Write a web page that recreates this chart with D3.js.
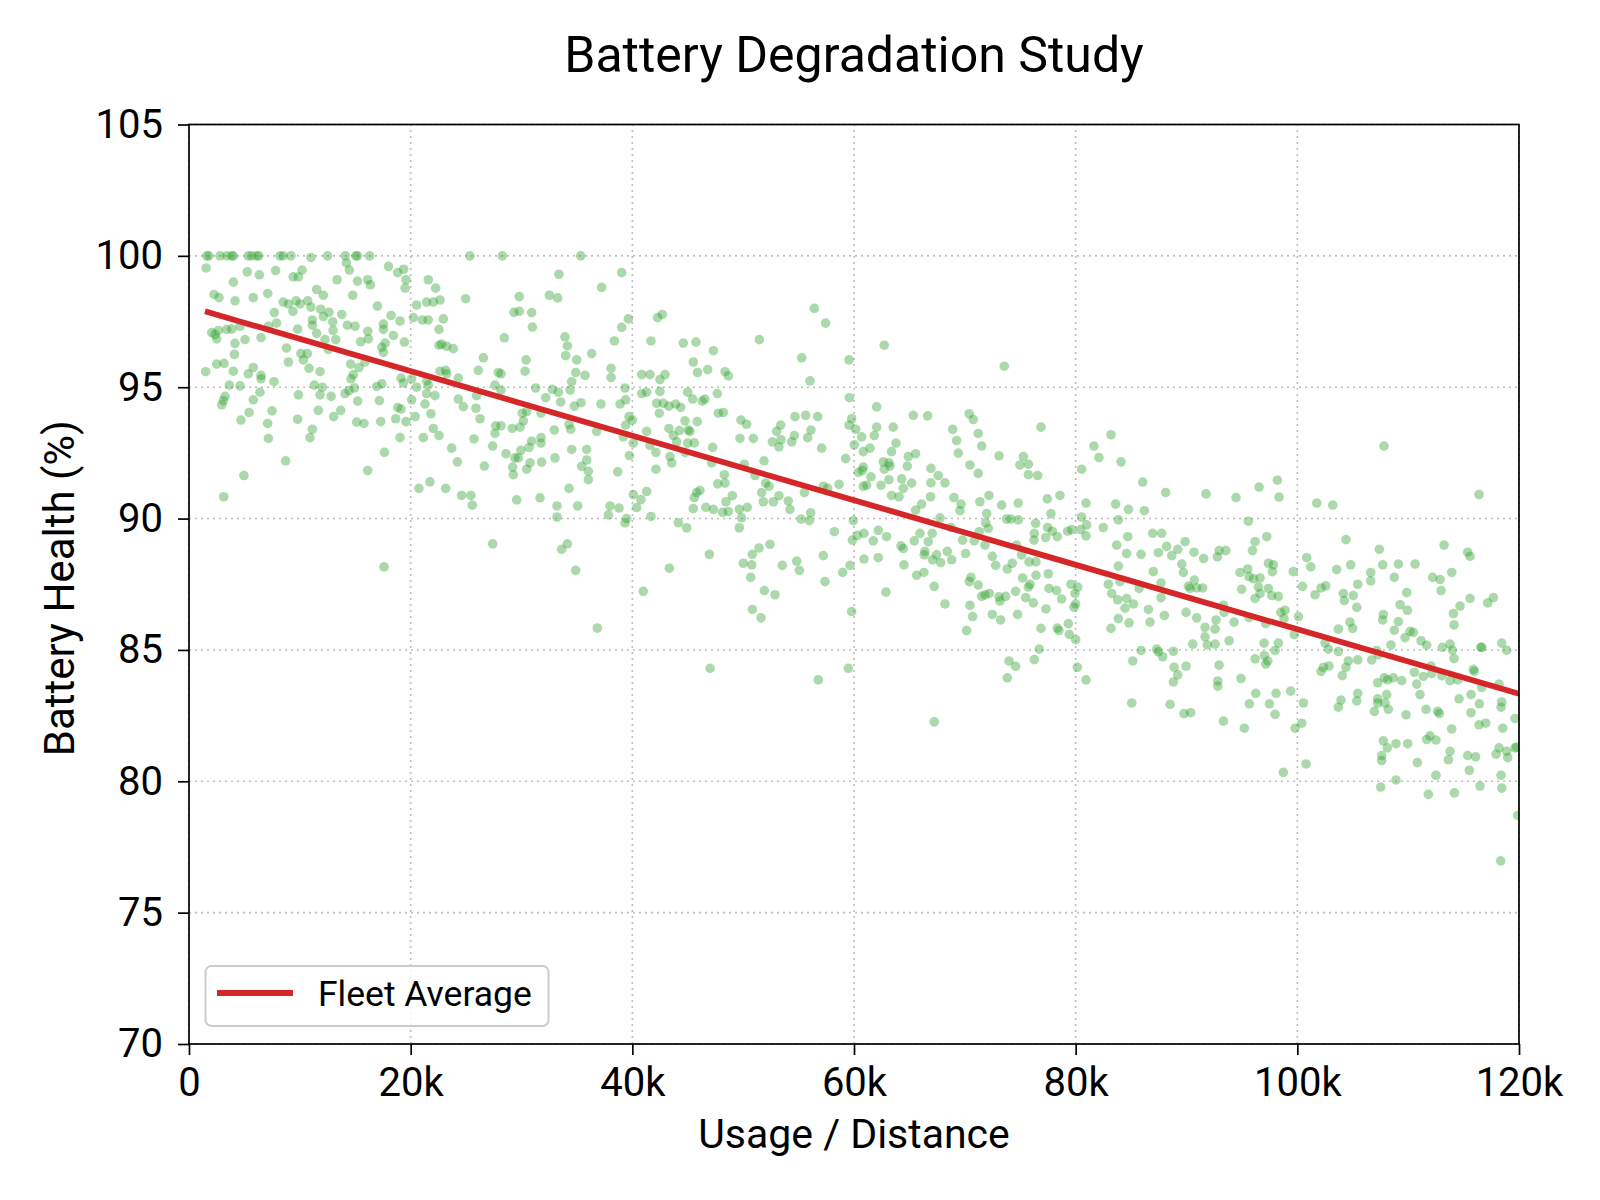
<!DOCTYPE html>
<html>
<head>
<meta charset="utf-8">
<script src="https://d3js.org/d3.v7.min.js"></script>
<style>
  body { margin: 0; background: #fff; }
</style>
</head>
<body>
<script>
// usage in thousands of km, battery health in %
const readings = [
  // 0 - 20k
  [1.6,100],[1.8,100],[2.8,100],[3.4,100],[3.85,100],[4.0,100],[5.35,100],[5.65,100],[6.1,100],[6.3,100],[8.2,100],[8.5,100],[9.2,100],[11.0,99.94],[12.5,100],[14.1,100],[14.2,99.73],[15.05,100],[15.2,100],[16.3,100],
  [1.54,99.54],[5.26,99.39],[6.35,99.28],[7.82,99.44],[4.0,99.0],[9.4,99.2],[9.87,99.2],[10.2,99.46],[13.36,99.09],[14.47,99.46],[15.2,99.04],[16.12,99.09],[16.36,98.9],[18.0,99.6],[18.83,99.36],[19.37,99.49],[19.58,99.09],[19.5,98.77],
  [2.26,98.53],[2.71,98.41],[4.15,98.29],[5.8,98.41],[7.1,98.57],[11.52,98.72],[12.12,98.5],[14.77,98.5],[17.0,98.09],
  [8.5,98.24],[8.97,98.17],[9.66,98.29],[10.02,98.17],[10.71,98.29],[11.0,98.05],[11.88,97.97],[12.63,97.85],[12.12,97.69],[9.38,97.89],[7.7,97.84],[13.78,97.77],[11.13,97.56],[12.97,97.49],[11.13,97.36],[14.29,97.36],[14.98,97.32],[17.54,97.4],[18.23,97.73],[19.04,97.52],[20.24,97.65],
  [2.05,97.08],[2.35,97.0],[2.5,96.84],[2.65,97.16],[3.4,97.2],[3.85,97.21],[4.6,97.32],[5.05,96.81],[6.5,96.89],[7.9,97.44],[7.16,97.32],[9.8,97.21],[11.52,97.05],[12.27,96.81],[13.0,97.16],[13.24,96.81],[12.57,96.44],[16.12,97.13],[16.18,96.84],[15.49,96.73],[17.54,97.2],[17.7,96.68],[17.4,96.52],[17.54,96.33],[18.44,96.97],[19.43,96.72],
  [4.15,96.67],[4.1,96.25],[8.8,96.49],[10.1,96.28],[10.68,96.28],[10.32,96.04],[8.97,95.96],[10.83,95.72],[11.82,95.59],[14.59,95.88],[15.34,95.75],[15.88,95.96],[14.62,95.32],[14.83,95.48],
  [1.5,95.59],[2.5,95.88],[3.16,95.91],[4.0,95.61],[5.35,95.51],[5.8,95.75],[6.5,95.45],[6.5,95.32],[7.67,95.21],[3.64,95.08],[4.6,95.05],[11.31,95.08],[12.03,95.0],[11.82,94.71],[12.82,94.65],[14.08,94.76],[14.44,94.87],[14.92,94.97],[16.94,95.03],[17.4,95.13],[19.13,95.35],[19.34,95.16],[20.09,95.32],
  [3.25,94.65],[3.1,94.49],[2.95,94.33],[5.8,94.52],[6.4,94.81],[9.87,94.71],[15.22,94.47],[17.18,94.49],[20.09,94.52],
  [4.69,93.75],[5.42,94.04],[7.1,93.62],[7.49,94.1],[9.8,93.78],[11.67,94.12],[13.06,93.88],[13.69,94.12],[15.13,93.67],[15.79,93.62],[17.3,93.69],[18.65,93.8],[18.83,94.23],[19.13,94.17],[19.58,93.69],[20.4,93.88],
  [7.16,93.05],[10.92,93.08],[11.13,93.4],[19.04,93.08],[8.72,92.2],[17.63,92.52],[16.12,91.83],[4.96,91.64],[3.13,90.83],[17.6,88.16],
  // 20k - 40k
  [25.35,100],[28.27,100],[35.34,100],
  [21.59,99.09],[22.26,98.77],[33.38,99.3],[39.04,99.36],[37.23,98.8],
  [20.54,98.13],[21.44,98.24],[22.04,98.24],[22.65,98.32],[24.96,98.37],[29.8,98.45],[32.51,98.5],[33.26,98.4],
  [21.05,97.56],[21.59,97.56],[22.95,97.6],[22.56,97.2],[29.32,97.85],[29.8,97.89],[30.92,97.84],[30.98,97.29],[28.45,96.88],[33.92,96.92],[34.14,96.57],[33.98,96.2],[34.98,96.04],[36.33,96.28],[38.38,96.76],[39.04,97.28],[39.64,97.6],
  [22.56,96.6],[22.8,96.64],[23.25,96.56],[23.85,96.47],[26.56,96.12],[30.41,96.04],
  [22.65,95.61],[23.16,95.64],[23.25,95.51],[24.3,95.35],[26.1,95.64],[27.91,95.56],[28.15,95.51],[30.32,95.61],[34.89,95.56],[35.73,95.45],[38.08,95.72],[38.08,95.37],[40.84,95.48],
  [20.54,95.0],[21.44,95.24],[21.59,95.08],[21.44,94.76],[22.19,94.68],[21.29,94.36],[21.83,93.99],[24.3,94.55],[24.75,94.26],[25.89,94.2],[25.95,94.68],[26.26,93.8],[27.61,95.08],[28.15,94.89],[31.28,94.97],[32.18,94.6],[32.78,94.92],[33.32,94.81],[33.53,94.44],[34.38,94.89],[34.53,95.21],[34.77,94.28],[35.37,94.41],[37.17,94.36],[38.89,94.36],[39.4,94.52],[39.34,94.97],[39.7,93.88],[40.0,93.75],[40.84,94.76],
  [30.07,94.01],[30.47,94.07],[31.76,94.01],[29.17,93.43],[29.86,93.48],[30.17,93.72],[27.67,93.53],[28.15,93.53],[27.61,93.24],[32.96,93.37],[34.29,93.59],[34.44,93.4],[36.78,93.32],[39.4,93.56],[39.19,93.11],[40.09,92.87],
  [21.14,93.08],[22.56,93.16],[22.04,93.43],[23.7,92.68],[25.71,93.03],[27.4,92.76],[24.21,92.16],[26.65,92.0],[28.6,92.47],[29.41,92.31],[29.71,92.31],[29.95,92.6],[30.68,92.71],[30.92,92.95],[31.76,93.08],[31.76,92.87],[29.2,91.96],[29.26,91.67],[30.47,91.88],[30.77,92.12],[31.82,92.15],[33.02,92.31],[34.53,92.63],[35.88,92.63],[35.88,92.23],[35.43,91.99],[36.03,91.8],[36.03,91.48],[38.68,91.78],[39.73,92.4],[40.09,90.91],[40.39,90.42],[40.78,90.72],
  [20.75,91.15],[21.74,91.4],[23.16,91.15],[24.6,90.88],[25.44,90.88],[25.56,90.51],[29.56,90.71],[31.67,90.79],[34.29,91.15],[33.2,90.48],[33.2,90.06],[35.07,90.48],[37.99,90.48],[37.84,90.14],[38.8,90.4],[39.34,89.84],[39.49,90.0],
  [27.4,89.04],[33.62,88.83],[34.14,89.04],[34.89,88.03],[40.99,87.23],[36.84,85.83],
  // 40k - 60k
  [42.28,97.65],[42.7,97.77],[41.68,96.76],[44.6,96.68],[45.74,96.72],[47.31,96.39],[45.5,95.96],[45.89,95.56],[46.8,95.67],[48.36,95.59],[48.66,95.43],[51.46,96.81],[55.28,96.12],[56.03,95.24],[56.42,98.0],[57.44,97.44],[59.55,96.04],
  [41.59,95.48],[42.49,95.29],[42.95,95.48],[41.29,94.81],[42.49,94.84],[42.19,94.39],[42.79,94.39],[43.3,94.28],[43.91,94.36],[44.36,94.23],[42.43,94.01],[44.99,94.81],[45.44,94.55],[46.31,94.47],[46.55,94.55],[47.67,94.76],[47.76,94.01],[48.21,94.04],[44.75,93.72],[45.86,93.69],[43.3,93.43],[43.7,93.16],[44.24,93.35],[45.05,93.37],[45.2,93.32],[44.0,92.92],[44.99,92.87],[45.59,92.88],[41.29,93.32],[41.59,92.79],[42.13,92.52],[43.4,92.36],[43.55,92.12],[42.13,91.88],[44.75,92.52],[47.25,92.71],[47.16,92.12],
  [49.8,93.75],[50.31,93.59],[49.71,93.05],[50.92,93.05],[52.63,92.92],[53.02,93.32],[53.38,93.56],[53.41,93.0],[53.23,92.73],[54.38,92.92],[54.62,93.16],[54.68,93.88],[55.64,93.93],[56.72,93.88],[56.12,93.37],[55.82,93.08],[57.08,92.68],[50.1,92.07],[51.88,92.2],[51.07,91.64],[52.03,91.35],[52.33,91.23],[51.67,90.99],[51.82,90.64],[52.72,90.64],[53.23,90.87],[54.07,90.67],[54.22,90.35],[55.52,90.99],[57.23,91.23],[57.62,91.15],[58.65,91.3],[59.25,92.28],[55.22,89.98],[55.97,89.92],[56.09,90.22],
  [41.29,91.03],[41.68,90.08],[44.15,89.84],[44.9,89.65],[45.59,90.8],[45.8,90.99],[46.1,91.07],[45.5,90.38],[46.64,90.43],[47.31,90.35],[47.7,91.32],[48.3,91.67],[48.36,91.35],[49.02,90.87],[48.45,90.64],[48.15,90.24],[48.66,90.27],[49.65,90.35],[50.37,90.43],[49.86,90.03],[49.65,89.65],
  [59.58,94.6],[59.79,93.8],[59.55,93.56],[60.15,93.4],[60.69,93.11],[61.83,93.16],[60.03,92.81],[60.84,92.55],[61.44,92.68],[60.84,91.96],[60.39,91.76],[60.75,91.83],[61.53,91.59],[61.14,91.27],[60.84,91.23],[59.94,89.92],[59.85,89.18],[60.3,89.36],[60.9,89.44],[61.74,89.15],[60.9,88.46],
  [58.23,89.5],[57.23,88.59],[57.38,87.6],[58.98,87.95],[59.64,88.22],[59.79,86.46],[46.95,88.64],[43.34,88.11],[50.01,88.3],[50.77,88.24],[50.83,88.64],[51.43,88.88],[52.42,89.02],[50.68,87.76],[53.53,88.22],[54.83,88.38],[55.07,88.03],[51.91,87.26],[52.87,87.1],[50.83,86.54],[51.61,86.22],[47.01,84.3],[56.78,83.86],[59.49,84.3],
  // 60k - 80k
  [62.73,96.6],[73.56,95.8],
  [62.04,94.25],[62.04,93.48],[63.54,93.48],[63.79,92.87],[63.39,92.55],[62.64,92.16],[63.15,92.12],[63.24,92.0],[62.73,91.88],[64.9,92.36],[64.81,92.0],[65.56,92.47],[65.35,93.93],[66.64,93.91],[68.9,93.4],[69.26,92.97],[69.41,92.49],[70.4,93.99],[70.76,93.77],[71.21,93.24],[71.52,92.76],[70.46,92.04],[71.21,91.72],[73.08,92.39],[75.28,92.36],[74.97,92.04],[75.73,92.07],[75.73,91.67],[76.57,91.64],[76.87,93.48],[78.58,90.88],[77.44,90.75],[77.77,90.19],[80.54,91.88],[81.65,92.76],[82.1,92.32],[80.93,90.59],[80.54,90.06],[80.99,89.76],[82.49,89.66],
  [62.43,91.27],[63.15,91.48],[64.3,91.51],[64.45,91.15],[65.2,91.35],[63.39,90.88],[64.06,90.83],[66.94,91.91],[66.94,91.36],[67.6,91.64],[68.21,91.36],[66.91,90.83],[66.1,90.55],[65.56,90.32],[69.02,90.8],[69.65,90.55],[69.56,90.3],[71.36,90.64],[72.18,90.88],[73.32,90.51],[74.82,90.59],[71.97,90.19],[71.88,89.84],[72.12,89.63],[73.77,89.98],[74.16,89.98],[74.82,89.95],[76.39,89.82],[76.27,89.44],[76.24,89.18],[77.47,89.66],[77.89,89.52],[77.29,89.28],[78.34,89.31],[79.28,89.52],[79.64,89.58],[80.45,89.58],[80.93,89.34],
  [62.19,89.55],[62.94,89.31],[62.19,88.51],[64.24,88.96],[64.45,88.86],[64.51,88.24],[65.44,89.15],[65.95,89.44],[66.7,89.12],[67.06,89.44],[66.4,88.75],[66.34,88.62],[67.45,88.62],[67.09,88.43],[67.82,88.32],[68.42,88.75],[68.81,88.43],[67.76,90.03],[68.75,89.66],[69.8,89.18],[70.07,88.67],[70.85,89.15],[71.82,88.99],[71.3,89.5],[72.48,88.56],[72.78,88.22],[73.83,88.08],[74.28,88.3],[74.67,88.99],[75.12,88.62],[75.79,88.35],[76.42,88.35],[75.21,87.74],[75.88,87.5],[76.42,87.84],[77.53,87.9],[75.73,87.39],[75.49,86.99],[76.18,86.79],[77.59,87.34],[78.28,87.26],[78.73,86.94],[79.58,87.5],[80.18,87.39],[79.94,87.15],[79.85,86.63],[80.0,86.75],
  [65.65,87.84],[66.31,87.95],[62.88,87.2],[67.24,87.42],[68.21,86.75],[70.4,87.6],[70.55,87.76],[71.21,87.47],[71.52,87.04],[71.82,87.1],[72.21,87.15],[73.08,87.02],[73.17,86.86],[73.68,87.04],[74.58,87.23],[70.46,86.7],[70.7,86.27],[70.16,85.74],[72.48,86.35],[73.23,86.14],[74.76,86.35],[77.32,86.56],[76.87,85.82],[78.34,85.83],[78.49,85.74],[79.34,86.0],[79.43,85.59],[80.0,85.39],
  [76.72,85.03],[76.27,84.63],[73.98,84.58],[74.58,84.38],[73.83,83.94],[80.15,84.34],[80.93,83.86],[67.24,82.26],
  // 80k - 100k
  [83.19,93.19],[84.09,92.16],[86.05,91.39],[88.12,90.99],[91.76,90.94],[94.47,90.8],[96.55,91.2],[98.2,91.46],[98.35,90.82],[101.75,90.59],[103.19,90.51],
  [83.61,90.55],[84.76,90.35],[83.85,89.95],[86.2,90.3],[83.7,88.99],[84.7,89.31],[84.6,88.67],[83.85,88.19],[85.9,88.64],[86.95,89.44],[87.76,89.44],[88.21,88.94],[87.46,88.7],[88.67,88.59],[89.21,88.83],[89.87,89.12],[90.68,88.72],[89.57,88.27],[89.72,87.95],[91.55,88.48],[92.79,88.54],[92.94,88.78],[93.54,88.78],[95.58,89.9],[96.19,89.12],[95.95,88.78],[97.24,89.31],[97.39,88.3],[97.84,88.24],[97.75,87.98],[99.64,87.98],[100.85,88.51],[101.21,88.16],
  [87.01,87.98],[82.95,87.5],[84.0,87.6],[85.72,87.34],[87.7,87.55],[87.7,86.99],[83.25,87.15],[83.79,86.91],[84.6,86.96],[85.21,86.75],[84.45,86.59],[83.85,86.19],[84.82,86.03],[83.19,85.82],[86.56,86.54],[86.71,86.06],[88.0,86.31],[89.96,86.43],[90.17,87.43],[90.71,87.66],[90.92,87.36],[91.46,87.36],[90.32,87.34],[90.92,86.22],[91.67,85.86],[91.67,85.5],[91.88,85.19],[92.58,85.79],[92.67,86.14],[93.33,86.7],[93.39,86.43],[94.29,86.06],[93.84,85.35],[92.58,85.22],[90.56,85.22],[94.83,87.95],[95.52,88.08],[95.64,87.79],[96.04,87.71],[96.64,87.74],[94.98,87.31],[96.49,87.39],[96.64,87.15],[96.19,86.96],[97.39,87.34],[97.69,87.07],[98.29,87.04],[95.64,86.23],[97.15,86.0],[98.5,86.43],[98.89,86.51],[98.8,86.19],[100.1,86.27],[99.73,85.58],[98.29,85.26],[97.0,85.26],[100.46,87.42],[101.6,87.1],[102.14,87.36],[102.56,87.44],[102.5,85.26],[102.8,85.03],
  [85.15,84.58],[85.9,84.98],[87.31,85.03],[87.46,84.93],[87.85,84.74],[88.82,84.95],[88.88,84.34],[89.21,84.05],[88.82,83.78],[89.96,84.38],[92.94,84.42],[92.82,83.82],[92.82,83.62],[94.92,83.91],[96.19,84.66],[97.03,84.78],[97.33,84.58],[97.15,84.46],[97.99,84.98],[102.14,84.18],[102.35,84.34],[102.86,84.39],
  [85.06,82.98],[88.52,82.93],[89.78,82.58],[90.38,82.61],[93.33,82.29],[95.22,82.02],[95.67,82.95],[96.25,83.35],[97.48,82.95],[97.99,82.55],[98.08,83.35],[99.4,83.43],[100.55,82.98],[100.4,82.21],[99.8,82.02],[100.79,80.66],[98.74,80.34],
  // 100k - 120k
  [107.82,92.76],[116.39,90.91],
  [104.39,89.2],[107.4,88.83],[107.7,88.24],[109.12,88.27],[110.62,88.27],[113.24,88.99],[115.37,88.72],[115.58,88.56],[103.55,88.06],[104.81,88.24],[106.62,87.95],[106.62,87.63],[105.45,87.5],[108.75,87.76],[109.87,87.18],[112.21,87.76],[112.88,87.68],[112.97,87.26],[113.93,87.95],[115.58,86.96],[117.18,86.79],[117.69,86.99],[114.68,86.67],[114.08,86.38],[114.14,85.95],[104.15,87.15],[104.24,86.88],[105.05,87.07],[105.36,86.62],[109.27,86.72],[109.93,86.51],[109.12,86.08],[108.75,85.75],[107.76,86.35],[107.7,86.14],[104.75,86.06],[104.99,85.82],[103.7,85.79],[110.17,85.71],[110.47,85.67],[109.72,85.47],[108.45,85.19],[111.16,85.35],[111.67,85.18],[113.09,85.1],[113.78,85.22],[113.99,84.99],[114.14,84.67],[116.55,85.1],[116.64,85.1],[118.44,85.26],[118.89,84.99],
  [103.7,84.94],[104.6,84.58],[104.39,84.34],[104.06,84.02],[105.45,84.62],[106.71,84.62],[107.16,84.98],[107.31,84.82],[107.85,83.94],[107.25,83.75],[108.15,83.86],[108.66,83.94],[109.42,83.83],[110.77,83.7],[110.56,84.15],[111.37,83.99],[112.06,84.39],[112.12,84.1],[113.03,84.02],[113.78,83.83],[114.47,83.86],[115.88,84.26],[115.97,84.18],[116.64,83.57],[111.07,83.3],[103.7,82.82],[103.94,83.09],[105.36,83.06],[105.45,83.35],[106.95,82.66],[107.25,83.14],[107.25,82.98],[108.06,83.3],[107.91,82.98],[108.21,82.74],[109.81,82.53],[111.61,82.74],[112.66,82.66],[112.81,82.58],[114.59,83.14],[115.67,83.3],[116.42,82.95],[115.67,82.61],[116.39,82.15],[117.0,82.21],[118.2,83.7],[118.44,83.02],[118.38,82.82],[118.53,82.02],[119.64,82.39],[119.79,81.3],
  [107.76,81.54],[107.61,80.98],[107.61,80.79],[108.12,81.27],[108.9,81.43],[109.96,81.43],[110.83,80.71],[111.67,81.59],[111.97,81.73],[112.51,81.57],[113.93,81.99],[113.78,81.14],[113.63,80.82],[115.37,80.98],[116.09,80.93],[115.52,80.42],[117.93,81.03],[118.2,81.27],[118.89,81.14],[118.98,80.9],[119.64,81.27],[107.52,79.78],[108.9,80.05],[111.82,79.5],[112.51,80.23],[114.17,79.56],[116.48,79.82],[118.38,80.23],[118.44,79.74],[119.88,78.7],[118.35,76.97]
]

// fleet average trend line (start / end)
const fleetAvgUsage = [1.44, 120]
const fleetAvgHealth = [97.89, 83.33]

const xTicks = [0, 20, 40, 60, 80, 100, 120]
const yTicks = [70, 75, 80, 85, 90, 95, 100, 105]

const width = 1600
const height = 1200
const margin = { left: 189, right: 81, top: 124.5, bottom: 156 }
const fontFamily = "Roboto, 'Open Sans', sans-serif"

const svg = d3.select("body").append("svg")
    .attr("width", width).attr("height", height)
    .style("font-family", fontFamily)

const x = d3.scaleLinear().domain([0, 120]).range([margin.left, width - margin.right])
const y = d3.scaleLinear().domain([70, 105]).range([height - margin.bottom, margin.top])

// grid
const grid = svg.append("g")
    .attr("stroke", "#bdbdbd")
    .attr("stroke-width", 1.6)
    .attr("stroke-dasharray", "2,4")
grid.selectAll(".vgrid").data(xTicks).join("line")
    .attr("x1", d => x(d)).attr("x2", d => x(d))
    .attr("y1", y(70)).attr("y2", y(105))
grid.selectAll(".hgrid").data(yTicks).join("line")
    .attr("x1", x(0)).attr("x2", x(120))
    .attr("y1", d => y(d)).attr("y2", d => y(d))

// clip for the plot area
svg.append("clipPath").attr("id", "plotClip").append("rect")
    .attr("x", x(0)).attr("y", y(105))
    .attr("width", x(120) - x(0)).attr("height", y(70) - y(105))

const plot = svg.append("g").attr("clip-path", "url(#plotClip)")

plot.selectAll(".dot").data(readings).join("circle")
    .attr("class", "dot")
    .attr("cx", d => x(d[0]))
    .attr("cy", d => y(d[1]))
    .attr("r", 4.8)
    .attr("fill", "#2ca02c")
    .attr("fill-opacity", 0.4)

plot.append("path")
    .datum(fleetAvgUsage.map((u, i) => [u, fleetAvgHealth[i]]))
    .attr("d", d3.line().x(d => x(d[0])).y(d => y(d[1])))
    .attr("fill", "none")
    .attr("stroke", "#d62728")
    .attr("stroke-width", 5.8)

// axes
const xAxis = svg.append("g")
    .attr("transform", `translate(0,${y(70)})`)
    .call(d3.axisBottom(x).tickValues(xTicks).tickSize(11).tickPadding(13)
        .tickFormat(d => d === 0 ? "0" : d + "k"))
const yAxis = svg.append("g")
    .attr("transform", `translate(${x(0)},0)`)
    .call(d3.axisLeft(y).tickValues(yTicks).tickSize(11).tickPadding(15))

for (const ax of [xAxis, yAxis]) {
    ax.select(".domain").remove()
    ax.selectAll(".tick line").attr("stroke", "#000").attr("stroke-width", 1.7)
    ax.selectAll(".tick text")
        .attr("fill", "#000")
        .style("font-family", fontFamily)
        .style("font-size", "40px")
}

// frame
svg.append("rect")
    .attr("x", x(0)).attr("y", y(105))
    .attr("width", x(120) - x(0)).attr("height", y(70) - y(105))
    .attr("fill", "none").attr("stroke", "#000").attr("stroke-width", 1.7)

// titles
svg.append("text")
    .attr("x", (x(0) + x(120)) / 2).attr("y", 72)
    .attr("text-anchor", "middle")
    .style("font-size", "50px")
    .text("Battery Degradation Study")

svg.append("text")
    .attr("x", (x(0) + x(120)) / 2).attr("y", 1148)
    .attr("text-anchor", "middle")
    .style("font-size", "41px")
    .text("Usage / Distance")

svg.append("text")
    .attr("transform", `translate(74,${(y(70) + y(105)) / 2 + 4}) rotate(-90)`)
    .attr("text-anchor", "middle")
    .style("font-size", "42px")
    .text("Battery Health (%)")

// legend
const legend = svg.append("g")
legend.append("rect")
    .attr("x", 205.5).attr("y", 966)
    .attr("width", 343).attr("height", 60)
    .attr("rx", 6)
    .attr("fill", "#fff").attr("fill-opacity", 0.8)
    .attr("stroke", "#cccccc").attr("stroke-width", 2)
legend.append("line")
    .attr("x1", 217).attr("x2", 293)
    .attr("y1", 993).attr("y2", 993)
    .attr("stroke", "#d62728").attr("stroke-width", 5.8)
legend.append("text")
    .attr("x", 318).attr("y", 1006)
    .style("font-size", "35.5px")
    .text("Fleet Average")
</script>
</body>
</html>
